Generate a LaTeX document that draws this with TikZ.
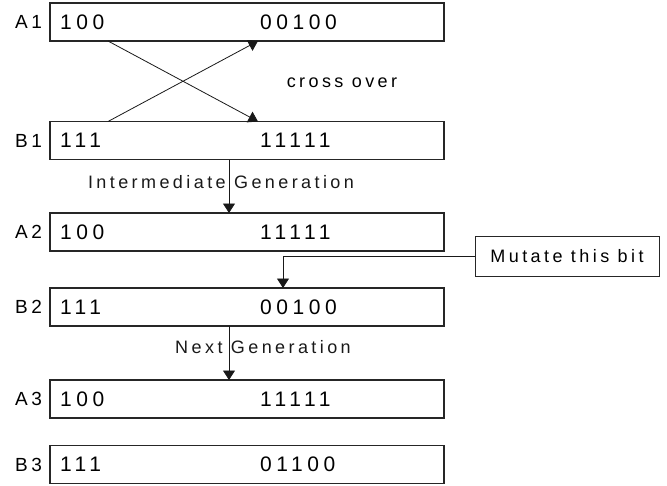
\documentclass[tikz,border=0pt]{standalone}
\usepackage{fontspec}
\setmainfont{Liberation Sans}
\newfontfamily\bitsfont[LetterSpace=22]{Liberation Sans}
\newfontfamily\notefont[LetterSpace=19]{Liberation Sans}
\usetikzlibrary{arrows.meta,positioning}
\tikzset{
  base/.style={inner sep=0pt, outer sep=0mm},
  chrom/.style={rectangle, draw=black!85, line width=1.2pt, minimum width=394pt, minimum height=38pt, base},
  bits/.style={font=\bitsfont\fontsize{21pt}{25pt}\selectfont, anchor=west, base},
  tag/.style={font=\notefont\fontsize{19pt}{23pt}\selectfont, base},
  note/.style={font=\notefont\fontsize{18pt}{22pt}\selectfont, base},
  callout/.style={rectangle, draw=black!85, line width=0.8pt, minimum width=184pt, minimum height=40pt, note},
  arrow/.style={-{Triangle[length=9.5pt, width=12pt]}, line width=0.8pt, color=black!90}
}

\begin{document}
\begin{tikzpicture}[x=1pt, y=1pt]
    \useasboundingbox (0,0) rectangle (667,-485);

    \node[chrom] (a1) at (247,-22) {};
    \node[chrom, below=80.5pt of a1] (b1) {};
    \node[chrom, below=53.5pt of b1] (a2) {};
    \node[chrom, below=37pt of a2] (b2) {};
    \node[chrom, below=54pt of b2] (a3) {};
    \node[chrom, below=27.5pt of a3] (b3) {};

    \foreach \row/\head/\tail/\tagtext in {a1/100/00100/A1, b1/111/11111/B1, a2/100/11111/A2, b2/111/00100/B2, a3/100/11111/A3, b3/111/01100/B3} {
      \node[tag, left=8pt of \row] (\row-tag) {\tagtext};
      \node[bits] (\row-head) at ([xshift=10pt]\row.west) {\head};
      \node[bits] (\row-tail) at ([xshift=210pt]\row.west) {\tail};
    }

    \draw[arrow] ([xshift=58pt]a1.south west) -- ([xshift=208pt]b1.north west);
    \draw[arrow] ([xshift=58pt]b1.north west) -- ([xshift=208pt]a1.south west);
    \node[note] (cross) at (342,-83) {cross over};

    \draw[arrow] ([xshift=179pt]b1.south west) -- ([xshift=179pt]a2.north west)
      node[note, midway, xshift=-8pt, yshift=4pt] (inter) {Intermediate Generation};

    \node[callout] (mutate) at (567,-256) {Mutate this bit};
    \draw[arrow] (mutate.west) -| ([xshift=233pt]b2.north west);

    \draw[arrow] ([xshift=179pt]b2.south west) -- ([xshift=179pt]a3.north west)
      node[note, midway, xshift=34pt, yshift=6pt] (next) {Next Generation};
\end{tikzpicture}
\end{document}
